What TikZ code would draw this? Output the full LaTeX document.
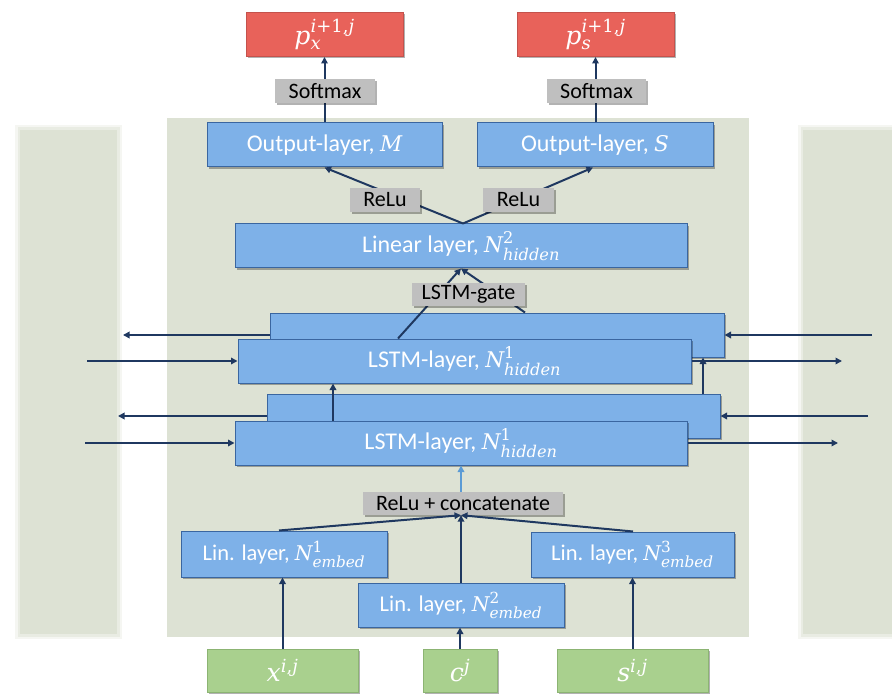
\documentclass[tikz,border=0pt]{standalone}
\usepackage{amsmath}
\usepackage{fontspec}
\setmainfont{Carlito}
\newfontfamily\cambriaish[Scale=0.9]{DejaVu Serif}
\newcommand\mi[1]{\text{\cambriaish\itshape #1}}
\newcommand\mn[1]{\text{\cambriaish #1}}
\DeclareMathSizes{24}{24}{18}{13}
\DeclareMathSizes{22.5}{22.5}{17}{12}
\DeclareMathSizes{28}{28}{20}{14}
\usetikzlibrary{arrows.meta,shadows,calc}
\definecolor{panel}{RGB}{221,226,212}
\definecolor{bfill}{RGB}{126,177,232}
\definecolor{bline}{RGB}{58,102,160}
\definecolor{rfill}{RGB}{232,98,90}
\definecolor{rline}{RGB}{196,82,76}
\definecolor{gfill}{RGB}{169,208,142}
\definecolor{gline}{RGB}{140,180,115}
\definecolor{grayf}{RGB}{191,191,191}
\definecolor{arrowc}{RGB}{31,56,96}
\definecolor{lightarr}{RGB}{91,155,213}
\tikzset{
  box/.style={rectangle, inner sep=0pt, align=center,
    drop shadow={shadow xshift=2pt, shadow yshift=-2pt, opacity=0.3, fill=black}},
  bluebox/.style={box, draw=bline, line width=1pt, fill=bfill, text=white,
    font=\fontsize{24}{28}\selectfont, minimum height=44pt},
  linbox/.style={bluebox, font=\fontsize{22.5}{27}\selectfont},
  graybox/.style={box, fill=grayf, text=black, font=\fontsize{22}{26}\selectfont,
    minimum height=24pt},
  redbox/.style={box, draw=rline, line width=1pt, fill=rfill, text=white,
    font=\fontsize{28}{32}\selectfont, minimum width=157pt, minimum height=44pt},
  greenbox/.style={box, draw=gline, line width=1pt, fill=gfill, text=white,
    font=\fontsize{28}{32}\selectfont, minimum height=43pt},
  arr/.style={draw=arrowc, line width=2pt, -{Triangle[length=6.5pt,width=6.5pt]}},
  lightarrow/.style={draw=lightarr, line width=2pt, -{Triangle[length=6.5pt,width=6.5pt]}},
  panelfill/.style={fill=panel, draw=none}
}
\begin{document}
\begin{tikzpicture}[x=1pt,y=-1pt]
\useasboundingbox (0,0) rectangle (892,695);
% background panels
\foreach \d/\o in {5/0.3,2.5/0.5,0/1}{
  \fill[panel, opacity=\o] (20-\d,130-\d) rectangle (117+\d,634+\d);
  \fill[panel, opacity=\o] (803-\d,130-\d) rectangle (897,634+\d);
}
\fill[panelfill] (167,118) rectangle (749,637);

% top part
\node[redbox] (px) at (324.5,34.5) {$\mi{p}^{\mi{i}\mn{+1,}\mi{j}}_{\mi{x}}$};
\node[redbox] (ps) at (595.5,34.5) {$\mi{p}^{\mi{i}\mn{+1,}\mi{j}}_{\mi{s}}$};
\node[bluebox, minimum width=235pt] (outM) at (324.5,145) {Output-layer, $\mi{M}$};
\node[bluebox, minimum width=236pt] (outS) at (595,145) {Output-layer, $\mi{S}$};
\node[bluebox, minimum width=452pt] (lin) at (461,246) {Linear layer, $\mi{N}^{\mn{2}}_{\mi{hidden}}$};
\draw[arr] (px.south |- outM.north) -- (px.south);
\draw[arr] (ps.south |- outS.north) -- (ps.south);
\node[graybox, minimum width=100pt] (smL) at (325,91) {Softmax};
\node[graybox, minimum width=99pt] (smR) at (596.5,91) {Softmax};
\draw[arr] ([xshift=2pt]lin.north) -- (outM.south);
\draw[arr] ([xshift=2pt]lin.north) -- ([xshift=-2pt]outS.south);
\node[graybox, minimum width=70pt] (reluL) at (385,200) {ReLu};
\node[graybox, minimum width=71pt] (reluR) at (518.5,200) {ReLu};

% LSTM layers
\node[bluebox, minimum width=454pt] (lstmBU) at (497,335) {};
\node[bluebox, minimum width=453pt] (lstmFU) at (464.5,361) {LSTM-layer, $\mi{N}^{\mn{1}}_{\mi{hidden}}$};
\node[bluebox, minimum width=453pt] (lstmBL) at (493.5,416) {};
\node[bluebox, minimum width=452pt] (lstmFL) at (461,443) {LSTM-layer, $\mi{N}^{\mn{1}}_{\mi{hidden}}$};

\draw[arr] ([xshift=-66.5pt]lstmFU.north) -- (lin.south);
\draw[arr] ([xshift=28pt]lstmBU.north) -- (lin.south);
\draw[arr] ([xshift=-128pt]lstmFL.north) -- ([xshift=-128pt]lstmFL.north |- lstmFU.south);
\draw[arr] ([xshift=209.5pt]lstmBL.north) -- ([xshift=209.5pt]lstmBL.north |- lstmBU.south);
\node[graybox, minimum width=113pt, minimum height=23pt] (gate) at (468.5,294.5) {LSTM-gate};

% side arrows
\coordinate (bul) at (123,335);
\coordinate (bur) at (872,335);
\coordinate (ful) at (87,361);
\coordinate (fur) at (842,361);
\coordinate (bll) at (118,416);
\coordinate (blr) at (868,416);
\coordinate (fll) at (85,443);
\coordinate (flr) at (838,443);
\draw[arr] (lstmBU.west) -- (bul);
\draw[arr] (bur) -- (lstmBU.east);
\draw[arr] (ful) -- (lstmFU.west);
\draw[arr] (lstmFU.east) -- (fur);
\draw[arr] (lstmBL.west) -- (bll);
\draw[arr] (blr) -- (lstmBL.east);
\draw[arr] (fll) -- (lstmFL.west);
\draw[arr] (lstmFL.east) -- (flr);

% embedding part
\node[graybox, minimum width=200pt, minimum height=23pt] (concat) at (463,503.5) {ReLu + concatenate};
\draw[lightarrow] (lstmFL.south |- concat.north) -- (lstmFL.south);
\node[linbox, minimum width=206pt, minimum height=46pt] (e1) at (284,554) {Lin. layer, $\mi{N}^{\mn{1}}_{\mi{embed}}$};
\node[linbox, minimum width=203pt, minimum height=45pt] (e3) at (632.5,554.5) {Lin. layer, $\mi{N}^{\mn{3}}_{\mi{embed}}$};
\node[linbox, minimum width=206pt] (e2) at (461,605) {Lin. layer, $\mi{N}^{\mn{2}}_{\mi{embed}}$};
\draw[arr] ([xshift=-5pt]e1.north) -- ([xshift=-2pt]concat.south);
\draw[arr] ([xshift=0.5pt]e3.north) -- ([xshift=-2pt]concat.south);
\draw[arr] (e2.north) -- (e2.north |- concat.south);

\node[greenbox, minimum width=151pt] (inx) at (282.5,670.5) {$\mi{x}^{\mi{i}\mn{,}\mi{j}}$};
\node[greenbox, minimum width=74pt] (inc) at (460,670.5) {$\mi{c}^{\mi{j}}$};
\node[greenbox, minimum width=151pt] (ins) at (632.5,670.5) {$\mi{s}^{\mi{i}\mn{,}\mi{j}}$};
\draw[arr] (inx.north) -- (inx.north |- e1.south);
\draw[arr] (inc.north) -- (inc.north |- e2.south);
\draw[arr] (ins.north) -- (ins.north |- e3.south);
\end{tikzpicture}
\end{document}
